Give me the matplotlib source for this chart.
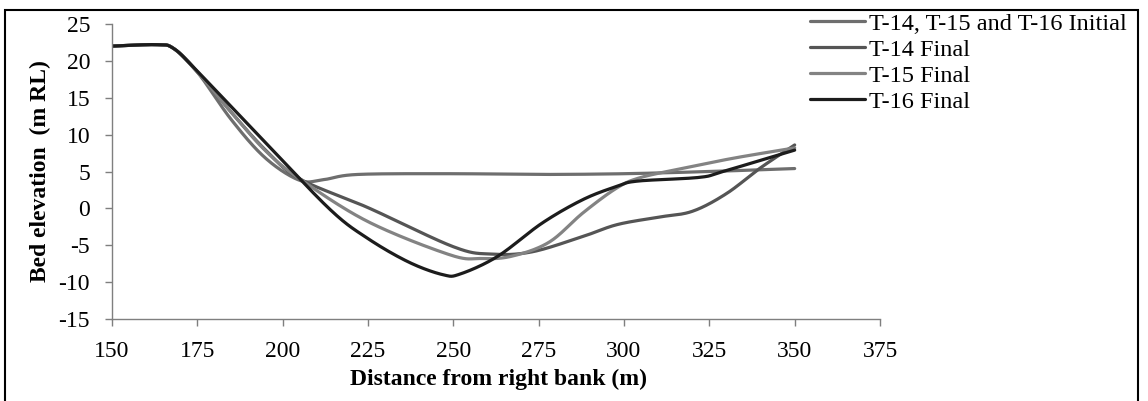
import numpy as np
import matplotlib
matplotlib.use("Agg")
import matplotlib.pyplot as plt
from matplotlib.patches import Rectangle

plt.rcParams['font.family'] = ['Liberation Serif', 'DejaVu Serif']
plt.rcParams['axes.unicode_minus'] = False

# Surveyed cross-section points: distance from right bank (m), bed level (m RL)
initial_x = [150, 163, 168, 175, 185, 195, 205, 212, 222, 250, 275, 300, 325, 350]
initial_y = [22.0, 22.2, 21.7, 18.5, 12.0, 6.8, 3.8, 3.9, 4.6, 4.7, 4.6, 4.7, 5.0, 5.4]

t14_x = [150, 163, 168, 175, 185, 195, 205, 225, 250, 261, 273, 288, 298, 310, 320, 330, 340, 350]
t14_y = [22.0, 22.2, 21.7, 18.5, 13.0, 7.9, 4.0, 0.1, -5.2, -6.2, -5.9, -3.8, -2.2, -1.2, -0.4, 2.0, 5.5, 8.6]

t15_x = [150, 163, 168, 175, 185, 195, 205, 225, 249, 258, 267, 278, 288, 298, 305, 317, 332, 350]
t15_y = [22.0, 22.2, 21.7, 18.5, 13.0, 7.8, 4.0, -1.8, -6.3, -6.8, -6.5, -4.6, -0.6, 2.8, 4.2, 5.4, 6.8, 8.2]

t16_x = [150, 163, 168, 175, 195, 214, 225, 237, 247, 252, 263, 276, 288, 298, 304, 322, 329, 350]
t16_y = [22.0, 22.2, 21.7, 18.6, 8.9, -0.2, -4.1, -7.3, -9.0, -8.9, -6.5, -2.0, 1.2, 3.0, 3.7, 4.2, 5.0, 7.9]

labels = ["T-14, T-15 and T-16 Initial", "T-14 Final", "T-15 Final", "T-16 Final"]
colors = ["#6e6e6e", "#555555", "#838383", "#1c1c1c"]

x_ticks = [150, 175, 200, 225, 250, 275, 300, 325, 350, 375]
y_ticks = [-15, -10, -5, 0, 5, 10, 15, 20, 25]


def smooth(xs, ys, n=30):
    """Catmull-Rom curve through the points (spreadsheet-style smoothed line)."""
    p = np.column_stack([xs, ys]).astype(float)
    p = np.vstack([p[0], p, p[-1]])
    out = []
    t = np.linspace(0, 1, n, endpoint=False)
    for i in range(1, len(p) - 2):
        p0, p1, p2, p3 = p[i - 1], p[i], p[i + 1], p[i + 2]
        tt = t[:, None]
        seg = 0.5 * ((2 * p1) + (-p0 + p2) * tt
                     + (2 * p0 - 5 * p1 + 4 * p2 - p3) * tt ** 2
                     + (-p0 + 3 * p1 - 3 * p2 + p3) * tt ** 3)
        out.append(seg)
    out.append(p[-2][None, :])
    out = np.vstack(out)
    return out[:, 0], out[:, 1]


W, H = 1148, 401
fig = plt.figure(figsize=(W / 100, H / 100), dpi=100)
ax = fig.add_axes([112 / W, 1 - 319 / H, 768 / W, 295 / H])

series = [(initial_x, initial_y), (t14_x, t14_y), (t15_x, t15_y), (t16_x, t16_y)]
for (xs, ys), lab, col in zip(series, labels, colors):
    sx, sy = smooth(xs, ys)
    ax.plot(sx, sy, color=col, lw=2.3, label=lab, solid_capstyle='round')

ax.set_xlim(150, 375)
ax.set_ylim(-15, 25)
ax.set_xticks(x_ticks)
ax.set_yticks(y_ticks)
ax.tick_params(axis='both', labelsize=17, color='#7f7f7f', length=5, width=1.0)
ax.tick_params(axis='y', pad=10.8)
ax.tick_params(axis='x', pad=11)
for s in ['top', 'right']:
    ax.spines[s].set_visible(False)
for s in ['left', 'bottom']:
    ax.spines[s].set_color('#7f7f7f')
    ax.spines[s].set_linewidth(1.0)

ax.set_xlabel("Distance from right bank (m)", fontsize=17, fontweight='bold')
ax.xaxis.set_label_coords((498 - 112) / 768, -0.17)
ax.set_ylabel("Bed elevation  (m RL)", fontsize=17, fontweight='bold')
ax.yaxis.set_label_coords((51 - 112) / 768, 0.5)

ax.legend(loc='upper left', bbox_to_anchor=(810 / W, 1 - 12.5 / H),
          bbox_transform=fig.transFigure, frameon=False, fontsize=17.5,
          handlelength=2.26, handletextpad=0.16, borderpad=0, borderaxespad=0,
          labelspacing=0.17)

fig.add_artist(Rectangle((5 / W, -0.02), (1138 - 5) / W, 1.02 - 9.5 / H,
                         transform=fig.transFigure, fill=False,
                         edgecolor='black', linewidth=1.5))

fig.savefig("out.png", dpi=100)
